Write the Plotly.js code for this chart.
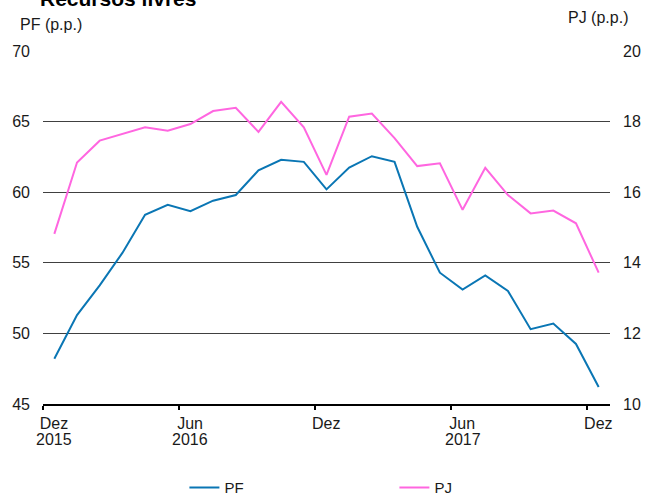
<!DOCTYPE html>
<html>
<head>
<meta charset="utf-8">
<script src="https://cdn.plot.ly/plotly-3.0.1.min.js"></script>
<style>html,body{margin:0;padding:0;background:#fff;}#chart{width:646px;height:494px;}</style>
</head>
<body>
<div id="chart"></div>
<script>
// Monthly series, Dez 2015 .. Dez 2017
const months = ["2015-12","2016-01","2016-02","2016-03","2016-04","2016-05","2016-06","2016-07","2016-08","2016-09","2016-10","2016-11","2016-12","2017-01","2017-02","2017-03","2017-04","2017-05","2017-06","2017-07","2017-08","2017-09","2017-10","2017-11","2017-12"];
const pf = [48.2,51.3,53.4,55.7,58.4,59.1,58.65,59.4,59.8,61.55,62.3,62.15,60.2,61.75,62.55,62.15,57.55,54.3,53.1,54.1,53.0,50.3,50.7,49.25,46.2];
const pj = [14.82,16.84,17.46,17.64,17.84,17.74,17.93,18.30,18.39,17.71,18.56,17.84,16.49,18.14,18.23,17.53,16.74,16.82,15.50,16.69,15.92,15.40,15.48,15.12,13.72];
const tickIdx = [0,6,12,18,24];
const tickMonths = ["Dez","Jun","Dez","Jun","Dez"];
const tickYears = ["2015","2016","","2017",""];
const pfTicks = [45,50,55,60,65,70];
const pjTicks = [10,12,14,16,18,20];

// Points sit in the middle of each month
const xs = months.map((m,i)=>i+0.5);
const FONT = "Liberation Sans, Arial, sans-serif";

const traces = [
  {x: xs, y: pf, name: "PF", type: "scatter", mode: "lines",
   line: {color: "#0a76b4", width: 2}, yaxis: "y"},
  {x: xs, y: pj, name: "PJ", type: "scatter", mode: "lines",
   line: {color: "#ff66e0", width: 2}, yaxis: "y2"}
];

const yearNotes = tickIdx.map((t,i)=>({
  text: tickYears[i], xref: "x", yref: "paper", x: t + 0.5, y: -0.1006,
  xanchor: "center", yanchor: "middle", showarrow: false, font: {size: 16}
})).filter(a=>a.text);

const layout = {
  width: 646, height: 494,
  margin: {l: 43, r: 36, t: 51, b: 90, autoexpand: false},
  paper_bgcolor: "#fff", plot_bgcolor: "#fff",
  font: {family: FONT, size: 16, color: "#1a1a1a"},
  showlegend: true,
  legend: {orientation: "h", x: 0.2494, y: -0.2375, xanchor: "left", yanchor: "middle",
           font: {size: 15}, entrywidth: 165, entrywidthmode: "pixels", itemwidth: 30,
           bgcolor: "rgba(0,0,0,0)"},
  xaxis: {range: [0, 25], tickmode: "array", tickvals: tickIdx, ticktext: tickMonths,
          ticks: "outside", ticklen: 4, tickwidth: 2, tickcolor: "#000",
          ticklabelshift: 11, ticklabelstandoff: 0, tickfont: {size: 16},
          showline: true, linecolor: "#000", linewidth: 2, showgrid: false, zeroline: false,
          fixedrange: true},
  yaxis: {range: [45, 70], tickmode: "array", tickvals: pfTicks, ticks: "",
          ticklabelstandoff: 12,
          showgrid: true, gridcolor: "#404040", gridwidth: 1, zeroline: false,
          showline: false, fixedrange: true},
  yaxis2: {range: [10, 20], tickmode: "array", tickvals: pjTicks, ticks: "",
           ticklabelstandoff: 12,
           overlaying: "y", side: "right", showgrid: false, zeroline: false,
           showline: false, fixedrange: true},
  annotations: [
    {text: "<b>Recursos livres</b>", xref: "paper", yref: "paper", x: -0.009, y: 1.15,
     xanchor: "left", yanchor: "middle", showarrow: false, font: {size: 21, color: "#000"}},
    {text: "PF (p.p.)", xref: "paper", yref: "paper", x: -0.044, y: 1.0737,
     xanchor: "left", yanchor: "middle", showarrow: false, font: {size: 16}},
    {text: "PJ (p.p.)", xref: "paper", yref: "paper", x: 1.0353, y: 1.0949,
     xanchor: "right", yanchor: "middle", showarrow: false, font: {size: 16}}
  ].concat(yearNotes)
};

Plotly.newPlot("chart", traces, layout, {displayModeBar: false, staticPlot: true});
</script>
</body>
</html>
